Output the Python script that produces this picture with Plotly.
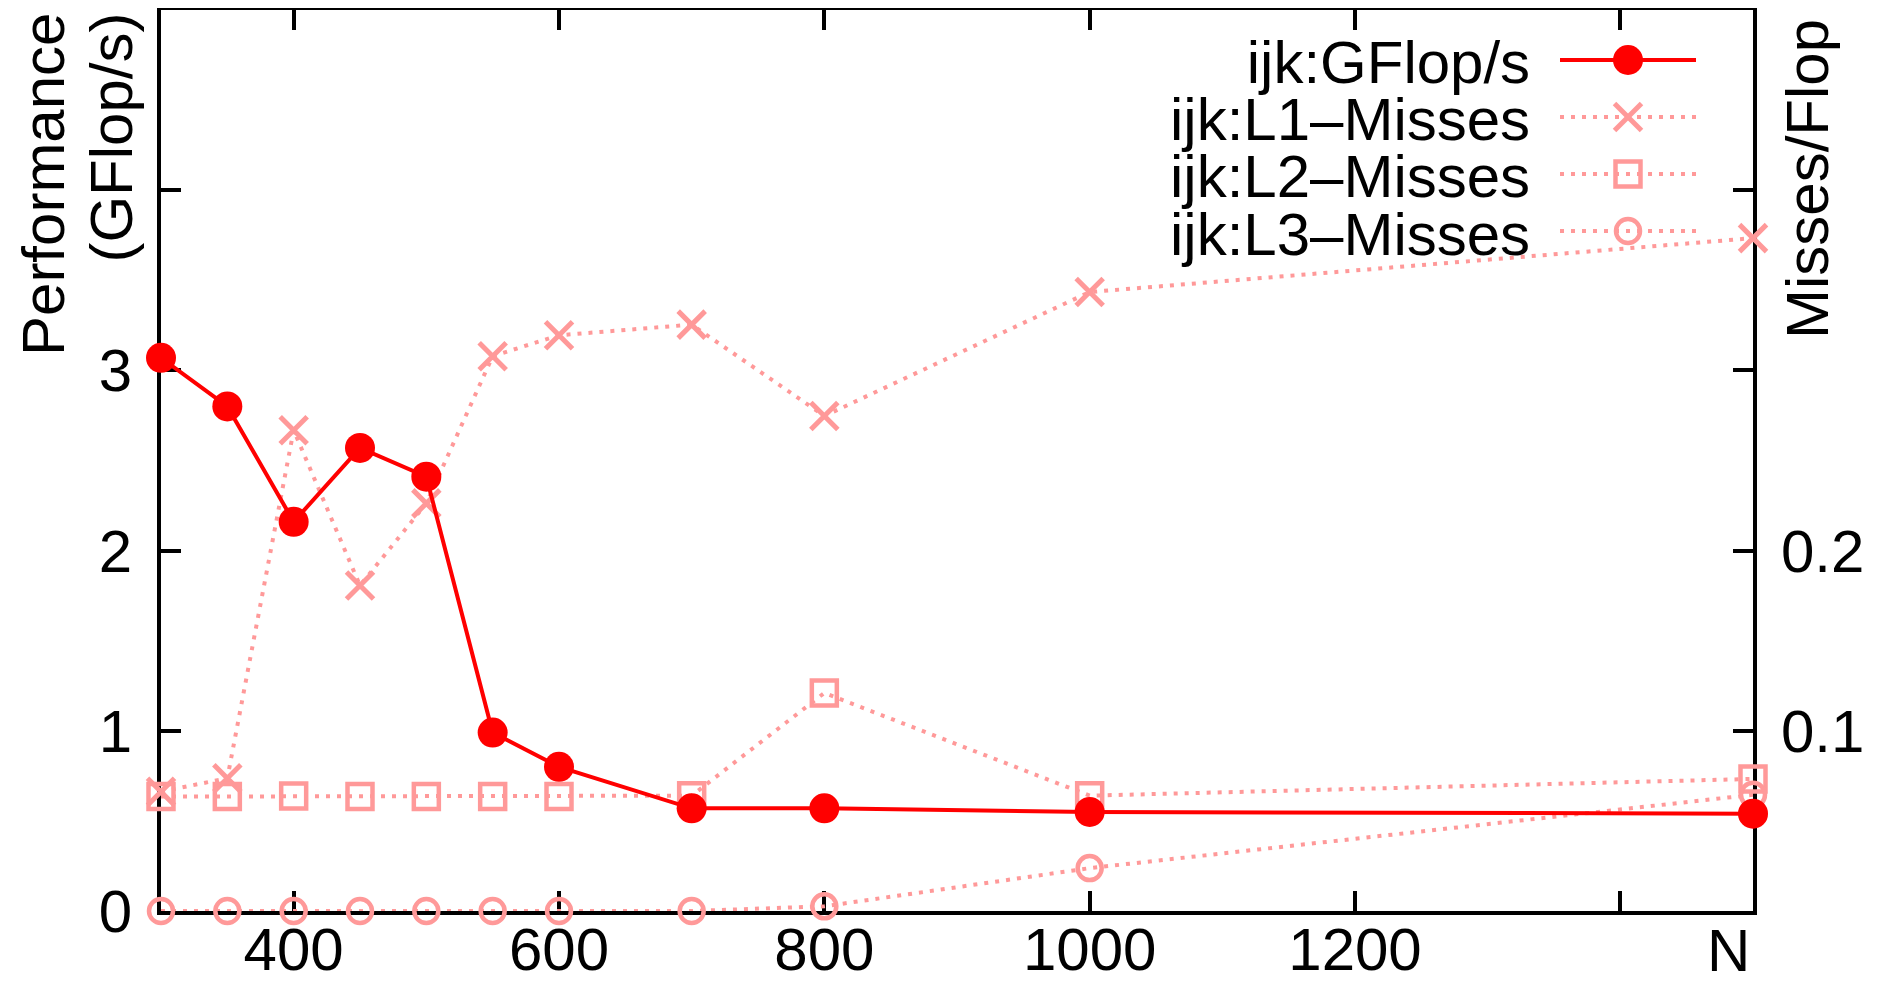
import plotly.graph_objects as go

# ---------------- data ----------------
N = [300, 350, 400, 450, 500, 550, 600, 700, 800, 1000, 1500]
gflops = [3.07, 2.80, 2.16, 2.57, 2.41, 0.99, 0.80, 0.57, 0.57, 0.55, 0.54]
l1_misses = [0.0662, 0.0737, 0.2668, 0.1806, 0.2262, 0.3079, 0.3195, 0.3254, 0.2747, 0.3435, 0.3734]
l2_misses = [0.0635, 0.0635, 0.0638, 0.0635, 0.0635, 0.0635, 0.0635, 0.0640, 0.1210, 0.0640, 0.0733]
l3_misses = [0.0, 0.0, 0.0, 0.0, 0.0, 0.0, 0.0, 0.0, 0.0026, 0.0238, 0.0645]

series_names = ["ijk:GFlop/s", "ijk:L1–Misses", "ijk:L2–Misses", "ijk:L3–Misses"]

x_tickvals = [400, 600, 800, 1000, 1200, 1400]
x_ticktext = ["400", "600", "800", "1000", "1200", ""]
y_tickvals = [0, 1, 2, 3, 4]
y_ticktext = ["0", "1", "2", "3", ""]
y2_tickvals = [0.1, 0.2, 0.3, 0.4]
y2_ticktext = ["0.1", "0.2", "", ""]

# ---------------- style ----------------
RED = "#ff0000"
PINK = "#ff9999"
FONT = "Liberation Sans, Arial, Helvetica, sans-serif"
FS = 60
DOT = "4px,7px"

W, H = 1881, 986
OFF = 8  # default page margin of the html body
L, R, T, B = 161, 1753, 10, 911


def px(xp):
    return (xp - L) / (R - L)


def py(yp):
    return (B - yp) / (B - T)


def big(s):
    return '<span style="font-size:%dpx">%s</span>' % (FS, s)


fig = go.Figure()

fig.add_trace(go.Scatter(
    x=N, y=l1_misses, yaxis="y", name=series_names[1], mode="lines+markers",
    line=dict(color=PINK, width=4, dash=DOT),
    marker=dict(symbol="x-thin-open", size=27, color=PINK, line=dict(color=PINK, width=5)),
    cliponaxis=False, showlegend=False))
fig.add_trace(go.Scatter(
    x=N, y=l2_misses, yaxis="y", name=series_names[2], mode="lines+markers",
    line=dict(color=PINK, width=4, dash=DOT),
    marker=dict(symbol="square-open", size=25, color=PINK, line=dict(color=PINK, width=4.5)),
    cliponaxis=False, showlegend=False))
fig.add_trace(go.Scatter(
    x=N, y=l3_misses, yaxis="y", name=series_names[3], mode="lines+markers",
    line=dict(color=PINK, width=4, dash=DOT),
    marker=dict(symbol="circle-open", size=24, color=PINK, line=dict(color=PINK, width=4.5)),
    cliponaxis=False, showlegend=False))
fig.add_trace(go.Scatter(
    x=N, y=gflops, yaxis="y2", name=series_names[0], mode="lines+markers",
    line=dict(color=RED, width=4),
    marker=dict(symbol="circle", size=30, color=RED, line=dict(width=0)),
    cliponaxis=False, showlegend=False))

axis_common = dict(
    showline=True, linewidth=4, linecolor="black", mirror="ticks",
    ticks="inside", ticklen=20, tickwidth=4, tickcolor="black",
    showgrid=False, zeroline=False, layer="below traces", automargin=False,
    tickfont=dict(family=FONT, size=FS, color="black"),
)

fig.update_layout(
    width=W - OFF, height=H - OFF,
    margin=dict(l=L - OFF, r=W - R, t=T - OFF, b=H - B, pad=0, autoexpand=False),
    paper_bgcolor="white", plot_bgcolor="white",
    font=dict(family=FONT, size=FS, color="black"),
    showlegend=False,
    xaxis=dict(range=[300, 1500], tickmode="array", tickvals=x_tickvals, ticktext=x_ticktext,
               ticklabelstandoff=-17, **axis_common),
    yaxis=dict(range=[0, 0.5], side="right", tickmode="array", tickvals=y2_tickvals,
               ticktext=y2_ticktext, ticklabelstandoff=12, **axis_common),
    yaxis2=dict(range=[0, 5], side="left", overlaying="y", tickmode="array",
                tickvals=y_tickvals, ticktext=y_ticktext, ticklabelstandoff=13, **axis_common),
)

# ---------------- axis titles ----------------
fig.add_annotation(xref="paper", yref="paper", showarrow=False, borderpad=0,
                   text=big("Performance") + "<br>" + big("(GFlop/s)"),
                   x=px(OFF + 1), y=py(12), xanchor="left", yanchor="top", textangle=-90, align="right",
                   font=dict(family=FONT, size=52, color="black"))
fig.add_annotation(xref="paper", yref="paper", showarrow=False, text="Misses/Flop", borderpad=0,
                   x=px(1807), y=py(18), xanchor="center", yanchor="top", textangle=-90,
                   font=dict(family=FONT, size=FS, color="black"))
fig.add_annotation(xref="paper", yref="paper", showarrow=False, text="N", borderpad=0,
                   x=px(1728), y=py(950), xanchor="center", yanchor="middle",
                   font=dict(family=FONT, size=FS, color="black"))

# ---------------- custom gnuplot-style key ----------------
rows_y = [60, 117, 174, 231]
key_text = "<br>".join(big(s) for s in series_names)
fig.add_annotation(xref="paper", yref="paper", showarrow=False, text=key_text,
                   x=px(1532), y=py(rows_y[0] - 33), xanchor="right", yanchor="top", align="right",
                   font=dict(family=FONT, size=44, color="black"))

sx0, sx1, mx = 1560, 1696, 1628
for i in range(len(series_names)):
    ry = rows_y[i]
    if i == 0:
        fig.add_shape(type="line", xref="paper", yref="paper", x0=px(sx0), x1=px(sx1),
                      y0=py(ry), y1=py(ry), line=dict(color=RED, width=4))
        r = 15
        fig.add_shape(type="circle", xref="paper", yref="paper", x0=px(mx - r), x1=px(mx + r),
                      y0=py(ry + r), y1=py(ry - r), fillcolor=RED, line=dict(width=0))
    else:
        fig.add_shape(type="line", xref="paper", yref="paper", x0=px(sx0), x1=px(sx1),
                      y0=py(ry), y1=py(ry), line=dict(color=PINK, width=4, dash=DOT))
        if i == 1:
            h = 13.5
            fig.add_shape(type="line", xref="paper", yref="paper", x0=px(mx - h), x1=px(mx + h),
                          y0=py(ry - h), y1=py(ry + h), line=dict(color=PINK, width=5))
            fig.add_shape(type="line", xref="paper", yref="paper", x0=px(mx - h), x1=px(mx + h),
                          y0=py(ry + h), y1=py(ry - h), line=dict(color=PINK, width=5))
        elif i == 2:
            h = 12.5
            fig.add_shape(type="rect", xref="paper", yref="paper", x0=px(mx - h), x1=px(mx + h),
                          y0=py(ry + h), y1=py(ry - h), line=dict(color=PINK, width=4.5))
        else:
            h = 12
            fig.add_shape(type="circle", xref="paper", yref="paper", x0=px(mx - h), x1=px(mx + h),
                          y0=py(ry + h), y1=py(ry - h), line=dict(color=PINK, width=4.5))

fig.write_html("out.html")
